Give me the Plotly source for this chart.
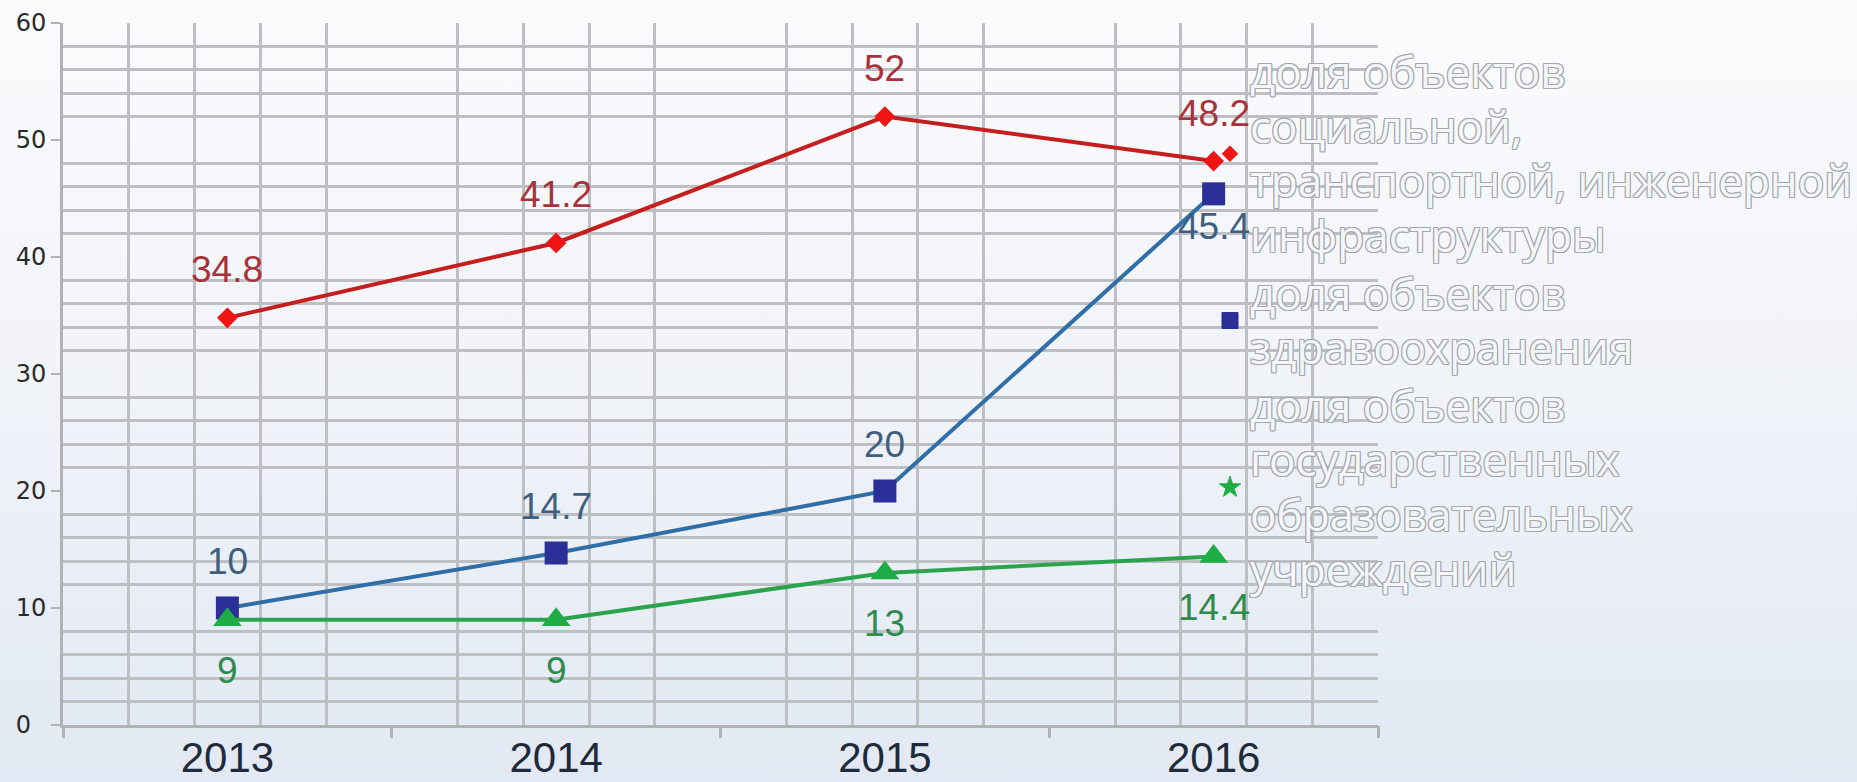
import base64
import plotly.graph_objects as go

# ---------------- data ----------------
years = [2013, 2014, 2015, 2016]
year_labels = ["2013", "2014", "2015", "2016"]

social = [34.8, 41.2, 52, 48.2]
health = [10, 14.7, 20, 45.4]
education = [9, 9, 13, 14.4]

series_names = [
    ["доля объектов", "социальной,", "транспортной, инженерной", "инфраструктуры"],
    ["доля объектов", "здравоохранения"],
    ["доля объектов", "государственных", "образовательных", "учреждений"],
]

y_tick_values = [0, 10, 20, 30, 40, 50, 60]
y_tick_labels = ["0", "10", "20", "30", "40", "50", "60"]

# label side per point (style)
social_label_side = ["above", "above", "above", "above"]
health_label_side = ["above", "above", "above", "below"]
education_label_side = ["below", "below", "below", "below"]

# ---------------- style ----------------
W, H = 1857, 782
M_L, M_R, M_T, M_B = 63, 479, 23, 57
PW, PH = W - M_L - M_R, H - M_T - M_B

GRID = "#bdbfc2"
AXIS = "#b0b2b5"

series_style = [
    dict(values=social, side=social_label_side, line="#c51e1e", marker="#f01515",
         symbol="diamond", size=16, label="#a8323a", legend_symbol="diamond", legend_size=12,
         above=48, below=33),
    dict(values=health, side=health_label_side, line="#2f6ea6", marker="#2b2f98",
         symbol="square", size=23, label="#3f5f80", legend_symbol="square", legend_size=16,
         above=47, below=33),
    dict(values=education, side=education_label_side, line="#2ba24c", marker="#1fae45",
         symbol="triangle-up", size=25, label="#2e8b4e", legend_symbol="star", legend_size=16,
         above=46, below=51),
]

fig = go.Figure()

for s in series_style:
    fig.add_trace(go.Scatter(
        x=years, y=s["values"], mode="lines+markers",
        line=dict(color=s["line"], width=4),
        marker=dict(symbol=s["symbol"], size=s["size"], color=s["marker"]),
        showlegend=False, hoverinfo="skip",
    ))

for s, lines in zip(series_style, series_names):
    name = "<br>".join(f'<span style="font-size:44px">{t}</span>' for t in lines)
    fig.add_trace(go.Scatter(
        x=[None], y=[None], mode="markers", name=name,
        marker=dict(symbol=s["legend_symbol"], size=s["legend_size"], color=s["marker"],
                    line=dict(width=1, color=s["marker"])),
    ))

# helper trace for the boundary tick axis
fig.add_trace(go.Scatter(x=[None], y=[None], xaxis="x2", yaxis="y", showlegend=False, hoverinfo="skip"))

# data labels
for s in series_style:
    for x, v, side in zip(years, s["values"], s["side"]):
        fig.add_annotation(
            x=x, y=v, xref="x", yref="y", text=f"{v:g}", showarrow=False,
            yshift=s["above"] if side == "above" else -s["below"],
            font=dict(family="Liberation Sans, Arial", size=37, color=s["label"]),
        )

# x grid: category boundaries and fifths
bounds = [y - 0.5 for y in years] + [years[-1] + 0.5]
x_minor = [b + k * 0.2 for b in bounds[:-1] for k in range(1, 5)]
x_range = [bounds[0], bounds[-1]]
# y grid: every 2, skipping the labelled tens
y_minor = [v for v in range(2, 60, 2) if v % 10]
# left-aligned y labels (pad with figure spaces)
y_tick_text = [t.ljust(2, "\u2007") for t in y_tick_labels]

# gradient background
svg = ('<svg xmlns="http://www.w3.org/2000/svg" width="100" height="100" preserveAspectRatio="none">'
       '<defs><linearGradient id="g" x1="0" y1="0" x2="0" y2="1">'
       '<stop offset="0" stop-color="#fcfcfd"/><stop offset="0.5" stop-color="#f0f3f8"/>'
       '<stop offset="1" stop-color="#e1e8f3"/></linearGradient></defs>'
       '<rect width="100" height="100" fill="url(#g)"/></svg>')
src = "data:image/svg+xml;base64," + base64.b64encode(svg.encode()).decode()
PAD = 30
fig.add_layout_image(dict(
    source=src, xref="paper", yref="paper", x=-(M_L + PAD) / PW, y=1 + (M_T + PAD) / PH,
    sizex=(W + 2 * PAD) / PW, sizey=(H + 2 * PAD) / PH, xanchor="left", yanchor="top",
    sizing="stretch", layer="below",
))

outline = "#a5a7aa"
shadow = ", ".join(f"{dx}px {dy}px 0 {outline}" for dx, dy in
                   [(1, 0), (-1, 0), (0, 1), (0, -1), (1, 1), (-1, -1), (1, -1), (-1, 1)])

fig.update_layout(
    width=W, height=H,
    margin=dict(l=M_L, r=M_R, t=M_T, b=M_B, autoexpand=False),
    paper_bgcolor="#f6f8fb",
    plot_bgcolor="rgba(0,0,0,0)",
    xaxis=dict(
        range=x_range, tickmode="array", tickvals=years, ticktext=year_labels,
        ticks="", showgrid=False, zeroline=False, ticklabelstandoff=-6,
        showline=True, linecolor=AXIS, linewidth=3,
        tickfont=dict(family="Liberation Sans, Arial", size=42, color="#1f2a3a"),
        minor=dict(tickmode="array", tickvals=x_minor, showgrid=True,
                   gridcolor=GRID, gridwidth=3, ticks=""),
    ),
    xaxis2=dict(
        range=x_range, overlaying="x", anchor="y", side="bottom",
        tickmode="array", tickvals=bounds, showticklabels=False,
        ticks="outside", ticklen=12, tickwidth=3, tickcolor=AXIS,
        showgrid=False, zeroline=False, showline=False,
    ),
    yaxis=dict(
        range=[0, 60], tickmode="array", tickvals=y_tick_values, ticktext=y_tick_text,
        ticks="outside", ticklen=9, tickwidth=2, tickcolor=AXIS,
        showgrid=False, zeroline=False, showline=True, linecolor=AXIS, linewidth=3,
        tickfont=dict(family="DejaVu Sans", size=24, color="#2a2a2a"),
        minor=dict(tickmode="array", tickvals=y_minor, showgrid=True,
                   gridcolor=GRID, gridwidth=3, ticks=""),
    ),
    legend=dict(
        x=(1210 - M_L) / PW, xanchor="left", y=1 - (38 - M_T) / PH, yanchor="top",
        bgcolor="rgba(0,0,0,0)", borderwidth=0, tracegroupgap=0,
        font=dict(family="Open Sans", size=42, color="#f4f6f9", shadow=shadow),
    ),
)

fig.write_html("out.html", config={"displayModeBar": False},
               post_script="document.body.style.margin='0';")
